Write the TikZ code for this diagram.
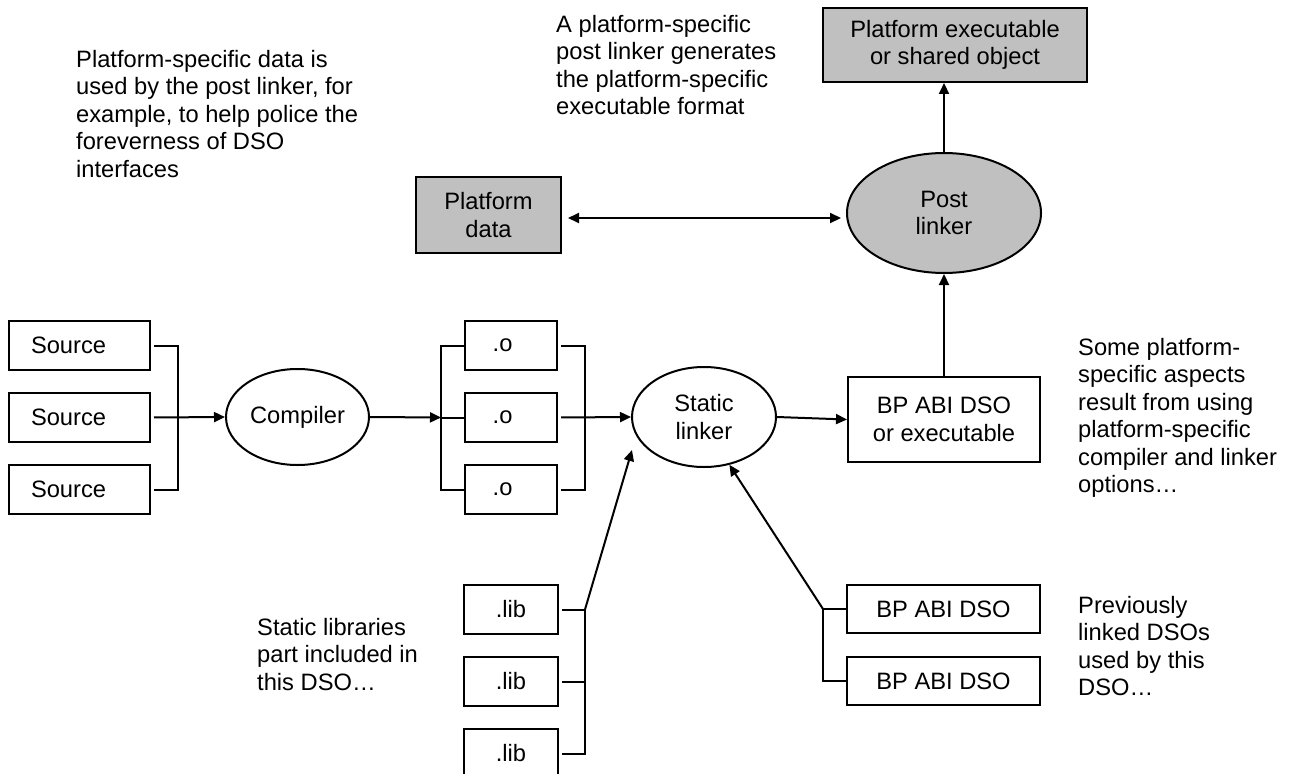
\documentclass[tikz,border=0pt]{standalone}
\usepackage{fontspec}
\setmainfont{Liberation Sans}
\usetikzlibrary{arrows.meta,shapes.geometric,calc}
\definecolor{silver}{HTML}{C0C0C0}
\begin{document}
\begin{tikzpicture}[x=1pt,y=-1pt,
  every node/.style={font=\fontsize{23.7}{27.5}\selectfont, inner sep=0pt},
  rbox/.style 2 args={draw, line width=2pt, minimum width=#1, minimum height=#2, align=center},
  gbox/.style 2 args={rbox={#1}{#2}, fill=silver},
  lbox/.style n args={3}{draw, line width=2pt, inner xsep=#1, text width=#2, minimum height=#3, align=left},
  oval/.style 2 args={ellipse, draw, line width=2pt, minimum width=#1, minimum height=#2, align=center},
  note/.style={anchor=north west, align=left},
  wire/.style={line width=2pt},
  arr/.style={wire, -{Triangle[length=11pt,width=10pt]}},
  dbl/.style={wire, {Triangle[length=11pt,width=10pt]}-{Triangle[length=11pt,width=10pt]}}
]
\useasboundingbox (0,0) rectangle (1289,773);

% sources
\node[lbox={22pt}{97pt}{49pt}] (s1) at (79.5,345.5) {Source};
\node[lbox={22pt}{97pt}{49pt}] (s2) at (79.5,417.5) {Source};
\node[lbox={22pt}{97pt}{49pt}] (s3) at (79.5,489.5) {Source};
\node[oval={143pt}{96pt}] (comp) at (297.5,417) {Compiler};

% objects
\node[lbox={27.7pt}{36.6pt}{49pt}] (o1) at (511,345.5) {.o};
\node[lbox={27.7pt}{36.6pt}{49pt}] (o2) at (511,417.5) {.o};
\node[lbox={27.7pt}{36.6pt}{49pt}] (o3) at (511,489.5) {.o};

\node[oval={144pt}{100pt}] (sl) at (704,417) {Static\\linker};
\node[rbox={192pt}{85pt}] (bp) at (944,419.5) {BP ABI DSO\\or executable};
\node[oval={194pt}{120pt}, fill=silver] (pl) at (944,213) {Post\\linker};
\node[gbox={264pt}{74pt}] (pe) at (955,45) {Platform executable\\or shared object};
\node[gbox={145pt}{76pt}] (pd) at (488.5,215) {Platform\\data};

% libs
\node[rbox={94pt}{49pt}] (l1) at (511,609.5) {.lib};
\node[rbox={94pt}{49pt}] (l2) at (511,681.5) {.lib};
\node[rbox={94pt}{49pt}] (l3) at (511,753.5) {.lib};

% previous DSOs
\node[rbox={193pt}{48pt}] (d1) at (943.5,609) {BP ABI DSO};
\node[rbox={193pt}{48pt}] (d2) at (943.5,681) {BP ABI DSO};

% junction points
\coordinate (sj) at (178,417.5);
\coordinate (oj) at (441,417.5);
\coordinate (lj) at (585,609.5);
\coordinate (dj) at (823,609);

% connectors
\draw[wire, shorten <=3pt, shorten >=3pt] (s1.east) -| (sj) |- (s3.east);
\draw[arr, shorten <=3pt] (s2.east) -- (comp.west);
\draw[arr] (comp.east) -- (oj);
\draw[wire] (o1.west) -| (oj) |- (o3.west);
\draw[wire] (oj) -- (o2.west);
\draw[wire, shorten <=3pt, shorten >=3pt] (o1.east) -| ($(o2.east)+(27,0)$) |- (o3.east);
\draw[arr, shorten <=3pt] (o2.east) -- (sl.west);
\draw[arr] (sl.east) -- (bp.west);
\draw[arr] (bp.north) -- (pl.south);
\draw[arr] (pl.north) -- (pl.north |- pe.south);
\draw[dbl] ($(pd.east)+(6,3)$) -- ($(pl.west)+(-5,5)$);
\draw[wire, shorten <=3pt, shorten >=3pt] (l1.east) -| (lj) |- (l3.east);
\draw[wire, shorten <=3pt] (l2.east) -- (l2.east -| lj);
\draw[arr] (lj) -- ($(sl.west)+(1,33)$);
\draw[wire] (d1.west) -| (dj) |- (d2.west);
\draw[arr] (dj) -- (sl.298);

% notes
\node[note] (t1) at (76,49.8) {Platform-specific data is\\used by the post linker, for\\example, to help police the\\foreverness of DSO\\interfaces};
\node[note] (t2) at (556,14.8) {A platform-specific\\post linker generates\\the platform-specific\\executable format};
\node[note] (t3) at (1078,337.8) {Some platform-\\specific aspects\\result from using\\platform-specific\\compiler and linker\\options…};
\node[note] (t4) at (257,617.8) {Static libraries\\part included in\\this DSO…};
\node[note] (t5) at (1078,595.8) {Previously\\linked DSOs\\used by this\\DSO…};
\end{tikzpicture}
\end{document}
